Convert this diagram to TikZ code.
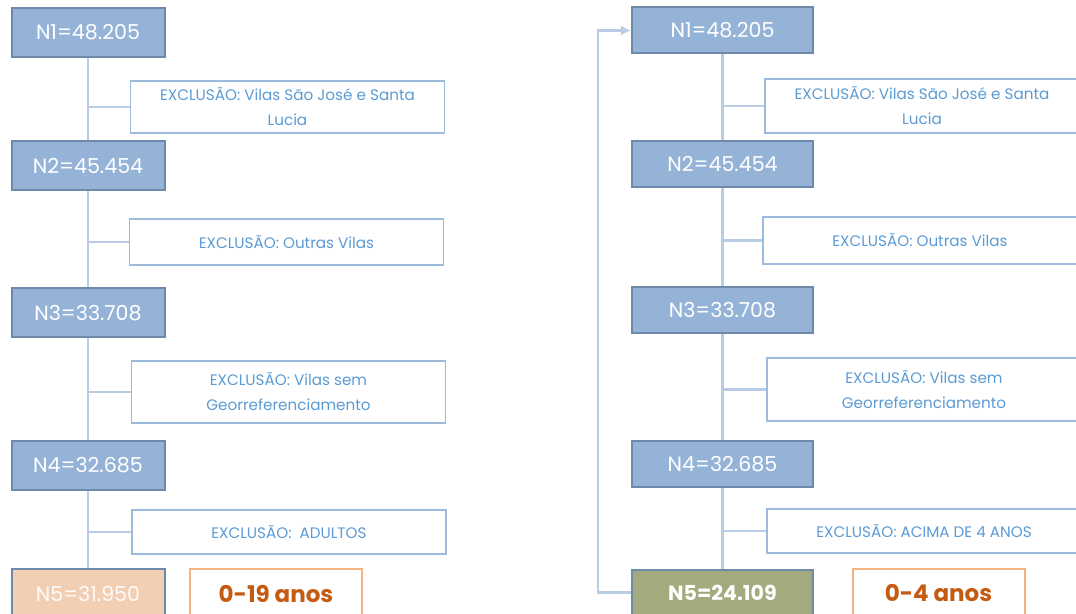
\documentclass[tikz,border=0pt]{standalone}
\usepackage{fontspec}
\setmainfont{Poppins}
\usepackage{tikz}
\usetikzlibrary{arrows.meta, positioning, calc}

\definecolor{nfill}{HTML}{95B3D7}
\definecolor{ndraw}{HTML}{6E8AAB}
\definecolor{exdraw}{HTML}{9DBBDD}
\definecolor{extext}{HTML}{5B9BD5}
\definecolor{linkc}{HTML}{B8CCE4}
\definecolor{peach}{HTML}{F2CEB3}
\definecolor{olive}{HTML}{A3AA7D}
\definecolor{agedraw}{HTML}{F4B183}
\definecolor{agetext}{HTML}{C55A11}

\tikzset{
  nbox/.style={draw=ndraw, line width=1pt, fill=nfill, text=white, minimum height=24.5pt, inner sep=0pt, font=\fontsize{10.3}{11}\selectfont},
  exbox/.style={draw=exdraw, line width=0.8pt, fill=white, text=extext, align=center, inner sep=0pt, minimum width=157pt, font=\fontsize{7.6}{12.5}\selectfont},
  agebox/.style={draw=agedraw, line width=1pt, text=agetext, inner sep=0pt, minimum width=86pt, minimum height=24.5pt, font=\bfseries\fontsize{11.5}{12}\selectfont},
  link/.style={draw=linkc, line width=1.2pt},
}

\begin{document}
\begin{tikzpicture}[x=0.5pt, y=-0.5pt, >=Stealth]
  \clip (0,0) rectangle (1076,614);
  \fill[white] (0,0) rectangle (1076,614);

  % === 0-19 ANOS ===
  \begin{scope}[nbox/.append style={minimum width=76.5pt}]
    \node[nbox] (l1) at (88,32.5) {N1=48.205};
    \node[exbox, minimum height=26pt] (le1) at (287.5,107) {EXCLUSÃO: Vilas São José e Santa\\Lucia};
    \node[nbox] (l2) at (88,166) {N2=45.454};
    \node[exbox, minimum height=23pt] (le2) at (286.5,242) {EXCLUSÃO: Outras Vilas};
    \node[nbox] (l3) at (88,313) {N3=33.708};
    \node[exbox, minimum height=31pt] (le3) at (288.5,392) {EXCLUSÃO: Vilas sem\\Georreferenciamento};
    \node[nbox] (l4) at (88,465.5) {N4=32.685};
    \node[exbox, minimum height=22pt] (le4) at (289,532) {EXCLUSÃO:\ \ ADULTOS};
    \node[nbox, fill=peach, text=white!92!peach] (l5) at (88,593.5) {N5=31.950};
    \node[agebox] (la) at (276,593.5) {0-19 anos};

    % tronco e ramos
    \draw[link] (l1.south) -- (l2.north);
    \draw[link] (l2.south) -- (l3.north);
    \draw[link] (l3.south) -- (l4.north);
    \draw[link] (l4.south) -- (l5.north);
    \foreach \i in {1,...,4}
      \draw[link] (le\i.west) -- (le\i.west -| l\i.south);
  \end{scope}

  % === 0-4 ANOS ===
  \begin{scope}[nbox/.append style={minimum width=90.5pt, minimum height=23pt}]
    \node[nbox] (r1) at (722.5,30.5) {N1=48.205};
    \node[exbox, minimum height=27pt] (re1) at (922,106) {EXCLUSÃO: Vilas São José e Santa\\Lucia};
    \node[nbox] (r2) at (722.5,164) {N2=45.454};
    \node[exbox, minimum height=23.5pt] (re2) at (920,240.5) {EXCLUSÃO: Outras Vilas};
    \node[nbox] (r3) at (722.5,310) {N3=33.708};
    \node[exbox, minimum height=31.5pt] (re3) at (924,389.5) {EXCLUSÃO: Vilas sem\\Georreferenciamento};
    \node[nbox] (r4) at (722.5,464) {N4=32.685};
    \node[exbox, minimum height=22pt] (re4) at (924,531) {EXCLUSÃO: ACIMA DE 4 ANOS};
    \node[nbox, fill=olive, font=\bfseries\fontsize{10.3}{11}\selectfont] (r5) at (722.5,592.5) {N5=24.109};
    \node[agebox] (ra) at (938.5,593.5) {0-4 anos};

    % tronco e ramos
    \draw[link] (r1.south) -- (r2.north);
    \draw[link] (r2.south) -- (r3.north);
    \draw[link] (r3.south) -- (r4.north);
    \draw[link] (r4.south) -- (r5.north);
    \foreach \i in {1,...,4}
      \draw[link] (re\i.west) -- (re\i.west -| r\i.south);

    % retorno
    \draw[link, -{Latex[length=5pt, width=5pt]}] (r5.west) -- ++(-33,0) |- (r1.west);
  \end{scope}
\end{tikzpicture}
\end{document}
